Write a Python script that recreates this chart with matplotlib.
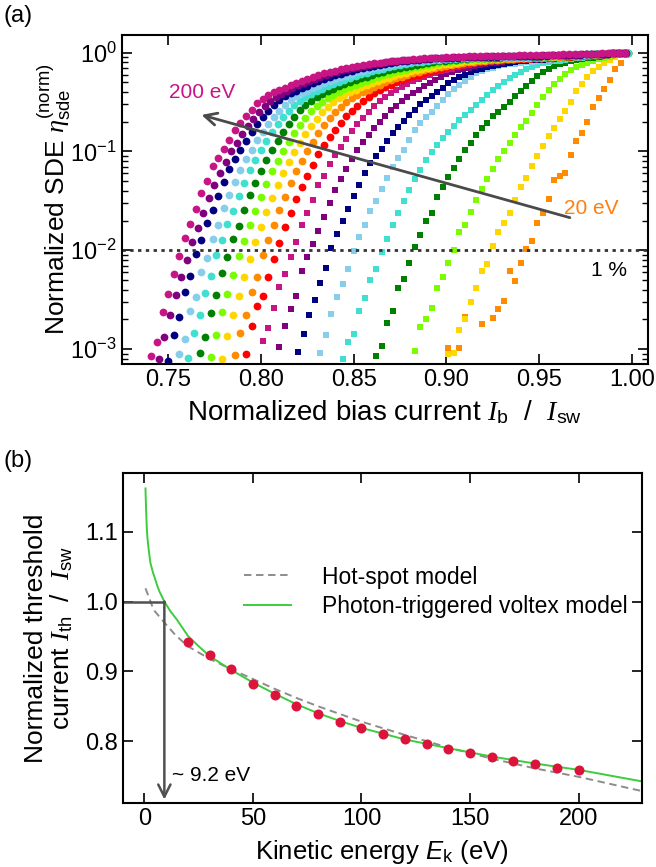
import numpy as np
import matplotlib
matplotlib.use('Agg')
import matplotlib.pyplot as plt
from matplotlib.ticker import FormatStrFormatter, LogLocator, NullFormatter, MultipleLocator

plt.rcParams['font.family'] = ['Liberation Sans', 'DejaVu Sans']
plt.rcParams['mathtext.fontset'] = 'custom'
plt.rcParams['mathtext.rm'] = 'Liberation Sans'
plt.rcParams['mathtext.it'] = 'Liberation Serif:italic'
plt.rcParams['mathtext.sf'] = 'Liberation Sans:italic'

NA = np.nan

# ---- panel (a): normalized SDE, log10 values ----
# each curve starts at bias_start[i] and goes up in steps of bias_step
energies = [20, 30, 40, 50, 60, 70, 80, 90, 100, 110, 120, 130, 140, 150, 160, 170, 180, 190, 200]
bias_start = [0.901, 0.901, 0.883, 0.862, 0.844, 0.832, 0.820, 0.810, 0.801, 0.792,
              0.786, 0.779, 0.773, 0.767, 0.761, 0.756, 0.750, 0.745, 0.741]
bias_step = 0.003

sde_20 = [-2.99, NA, -2.99, -2.68, NA, NA, -2.75, NA, -2.69, -2.59, -2.51, -2.21, -2.31, -2.13, -1.99,
          -1.91, -1.72, -1.62, -1.48, -1.29, -1.245, -1.22, -1.04, -0.89, -0.81, -0.70, -0.55, -0.46,
          -0.37, -0.28, -0.17, -0.10, 0.0]
sde_30 = [-3.05, -3.04, -2.81, -2.70, -2.52, -2.38, -2.21, -2.14, -1.96, -1.82, -1.72, -1.62, -1.49,
          -1.36, -1.27, -1.145, -1.05, -0.94, -0.84, -0.76, -0.675, -0.59, -0.50, -0.39, -0.32, -0.25,
          -0.19, -0.14, -0.10, -0.07, -0.045, -0.022, 0.0]
sde_40 = [-3.02, -2.78, -2.70, -2.58, -2.38, -2.27, -2.13, -2.00, -1.82, -1.74, -1.61, -1.49, -1.38,
          -1.28, -1.18, -1.08, -1.00, -0.915, -0.83, -0.755, -0.69, -0.61, -0.53, -0.45, -0.38, -0.32,
          -0.27, -0.22, -0.18, -0.145, -0.12, -0.10, -0.083, -0.068, -0.054, -0.04, -0.027, -0.014, 0.0]
sde_50 = [-3.07, -2.97, -2.74, -2.62, -2.38, -2.29, -2.13, -1.97, -1.85, -1.70, -1.62, -1.46, -1.36,
          -1.26, -1.17, -1.08, -0.99, -0.91, -0.83, -0.76, -0.71, -0.64, -0.596, -0.55, -0.50, -0.44,
          -0.39, -0.34, -0.29, -0.24, -0.20, -0.168, -0.135, -0.115, -0.10, -0.088, -0.077, -0.067,
          -0.058, -0.05, -0.042, -0.034, -0.026, -0.018, -0.009, 0.0]
sde_60 = [-3.10, -2.93, -2.85, -2.62, -2.48, -2.30, -2.19, -2.02, -1.89, -1.74, -1.62, -1.50, -1.39,
          -1.28, -1.19, -1.09, -1.01, -0.93, -0.86, -0.80, -0.74, -0.68, -0.63, -0.58, -0.53, -0.48,
          -0.43, -0.38, -0.34, -0.30, -0.26, -0.23, -0.20, -0.17, -0.145, -0.125, -0.108, -0.097,
          -0.088, -0.08, -0.072, -0.064, -0.057, -0.05, -0.043, -0.037, -0.03, -0.024, -0.018, -0.012,
          -0.006, 0.0]
sde_70 = [-3.04, -2.86, -2.65, -2.47, -2.34, -2.19, -2.01, -1.87, -1.74, -1.60, -1.50, -1.38, -1.27,
          -1.16, -1.07, -0.98, -0.88, -0.78, -0.71, -0.655, -0.60, -0.54, -0.48, -0.42, -0.37, -0.33,
          -0.285, -0.245, -0.21, -0.185, -0.163, -0.15, -0.138, -0.128, -0.119, -0.111, -0.103, -0.096,
          -0.09, -0.084, -0.078, -0.073, -0.068, -0.063, -0.058, -0.053, -0.048, -0.043, -0.038, -0.032,
          -0.026, -0.02, -0.015, -0.01, -0.005, 0.0]
sde_80 = [-3.03, -2.85, -2.66, -2.50, -2.33, -2.18, -1.98, -1.84, -1.70, -1.58, -1.45, -1.34, -1.22,
          -1.12, -1.05, -0.97, -0.89, -0.81, -0.75, -0.69, -0.63, -0.575, -0.52, -0.48, -0.44, -0.40,
          -0.355, -0.31, -0.28, -0.25, -0.225, -0.20, -0.18, -0.162, -0.146, -0.132, -0.12, -0.11,
          -0.102, -0.095, -0.088, -0.083, -0.078, -0.074, -0.07, -0.066, -0.062, -0.058, -0.054, -0.05,
          -0.045, -0.04, -0.035, -0.03, -0.025, -0.019, -0.014, -0.009, -0.004, 0.0]
sde_90 = [-2.98, -2.77, -2.59, -2.46, -2.21, -2.07, -1.94, -1.80, -1.66, -1.52, -1.39, -1.28, -1.18,
          -1.08, -0.98, -0.90, -0.83, -0.76, -0.70, -0.64, -0.585, -0.535, -0.49, -0.45, -0.41, -0.375,
          -0.34, -0.31, -0.28, -0.245, -0.215, -0.197, -0.18, -0.165, -0.151, -0.139, -0.128, -0.118,
          -0.109, -0.101, -0.094, -0.087, -0.081, -0.077, -0.073, -0.07, -0.066, -0.063, -0.06, -0.057,
          -0.054, -0.05, -0.046, -0.042, -0.038, -0.034, -0.03, -0.025, -0.02, -0.015, -0.01, -0.005, 0.0]
sde_100 = [-2.92, -2.79, -2.58, -2.37, -2.24, -2.07, -1.92, -1.74, -1.62, -1.49, -1.34, -1.25, -1.13,
           -1.04, -0.955, -0.87, -0.79, -0.72, -0.66, -0.60, -0.54, -0.49, -0.45, -0.41, -0.375, -0.345,
           -0.315, -0.29, -0.265, -0.245, -0.225, -0.207, -0.19, -0.175, -0.161, -0.148, -0.136, -0.125,
           -0.115, -0.106, -0.098, -0.09, -0.085, -0.08, -0.076, -0.072, -0.069, -0.066, -0.063, -0.06,
           -0.058, -0.056, -0.053, -0.05, -0.047, -0.044, -0.04, -0.036, -0.032, -0.028, -0.024, -0.02,
           -0.015, -0.01, -0.005, 0.0]
sde_110 = [-3.05, -2.77, -2.56, -2.46, -2.27, -2.09, -1.93, -1.76, -1.62, -1.48, -1.36, -1.25, -1.14,
           -1.03, -0.93, -0.85, -0.78, -0.71, -0.645, -0.59, -0.535, -0.49, -0.445, -0.405, -0.375, -0.35,
           -0.325, -0.30, -0.28, -0.26, -0.24, -0.222, -0.205, -0.19, -0.175, -0.16, -0.148, -0.136,
           -0.125, -0.115, -0.106, -0.098, -0.09, -0.083, -0.077, -0.073, -0.07, -0.067, -0.064, -0.061,
           -0.059, -0.057, -0.055, -0.053, -0.051, -0.049, -0.047, -0.044, -0.041, -0.038, -0.034, -0.031,
           -0.027, -0.023, -0.019, -0.014, -0.009, -0.005, 0.0]
sde_120 = [-3.06, -2.84, -2.66, -2.42, -2.27, -2.05, -1.90, -1.74, -1.59, -1.46, -1.32, -1.20, -1.10,
           -1.00, -0.90, -0.81, -0.73, -0.66, -0.60, -0.545, -0.50, -0.46, -0.43, -0.40, -0.375, -0.35,
           -0.325, -0.30, -0.28, -0.26, -0.242, -0.225, -0.208, -0.193, -0.179, -0.166, -0.154, -0.143,
           -0.133, -0.123, -0.114, -0.106, -0.098, -0.091, -0.085, -0.079, -0.074, -0.07, -0.066, -0.063,
           -0.06, -0.058, -0.055, -0.053, -0.051, -0.049, -0.047, -0.045, -0.043, -0.04, -0.038, -0.035,
           -0.032, -0.028, -0.025, -0.021, -0.017, -0.013, -0.008, -0.004, 0.0]
sde_130 = [-3.10, -2.87, -2.66, -2.46, -2.27, -2.09, -1.92, -1.76, -1.61, -1.47, -1.34, -1.22, -1.11,
           -1.01, -0.91, -0.82, -0.74, -0.67, -0.60, -0.545, -0.50, -0.46, -0.43, -0.40, -0.375, -0.35,
           -0.33, -0.31, -0.29, -0.27, -0.252, -0.235, -0.219, -0.204, -0.19, -0.176, -0.163, -0.151,
           -0.14, -0.129, -0.119, -0.11, -0.101, -0.094, -0.087, -0.081, -0.076, -0.071, -0.067, -0.063,
           -0.06, -0.057, -0.055, -0.053, -0.051, -0.049, -0.047, -0.045, -0.043, -0.041, -0.039, -0.036,
           -0.034, -0.031, -0.028, -0.025, -0.022, -0.019, -0.016, -0.012, -0.009, -0.005, -0.002, 0.0]
sde_140 = [-3.08, -2.86, -2.63, -2.44, -2.25, -2.06, -1.91, -1.74, -1.60, -1.46, -1.33, -1.20, -1.10,
           -1.00, -0.90, -0.81, -0.73, -0.66, -0.595, -0.54, -0.495, -0.455, -0.425, -0.395, -0.37, -0.345,
           -0.325, -0.305, -0.285, -0.265, -0.247, -0.23, -0.214, -0.199, -0.185, -0.171, -0.158, -0.146,
           -0.135, -0.124, -0.114, -0.105, -0.097, -0.09, -0.083, -0.077, -0.072, -0.068, -0.064, -0.061,
           -0.058, -0.056, -0.054, -0.052, -0.05, -0.048, -0.047, -0.045, -0.043, -0.042, -0.04, -0.038,
           -0.036, -0.034, -0.031, -0.029, -0.027, -0.024, -0.021, -0.018, -0.015, -0.012, -0.009, -0.005,
           -0.002, 0.0]
sde_150 = [-3.04, -2.88, -2.64, -2.45, -2.23, -2.07, -1.89, -1.75, -1.59, -1.44, -1.32, -1.20, -1.09,
           -0.99, -0.89, -0.80, -0.72, -0.65, -0.585, -0.53, -0.485, -0.45, -0.42, -0.39, -0.365, -0.34,
           -0.32, -0.30, -0.28, -0.26, -0.242, -0.225, -0.21, -0.195, -0.18, -0.166, -0.153, -0.141,
           -0.13, -0.12, -0.11, -0.101, -0.093, -0.086, -0.08, -0.074, -0.069, -0.065, -0.061, -0.058,
           -0.056, -0.054, -0.052, -0.05, -0.049, -0.047, -0.046, -0.045, -0.043, -0.042, -0.04, -0.039,
           -0.037, -0.035, -0.033, -0.031, -0.029, -0.027, -0.025, -0.022, -0.02, -0.017, -0.014, -0.011,
           -0.008, -0.005, -0.002, 0.0]
sde_160 = [-3.09, -2.84, -2.66, -2.43, -2.26, -2.05, -1.90, -1.73, -1.60, -1.45, -1.32, -1.19, -1.09,
           -0.98, -0.89, -0.80, -0.72, -0.65, -0.59, -0.53, -0.485, -0.445, -0.415, -0.39, -0.365, -0.34,
           -0.315, -0.295, -0.275, -0.255, -0.237, -0.22, -0.205, -0.19, -0.175, -0.162, -0.149, -0.137,
           -0.126, -0.116, -0.107, -0.099, -0.091, -0.084, -0.078, -0.072, -0.067, -0.063, -0.06, -0.057,
           -0.055, -0.053, -0.051, -0.049, -0.048, -0.046, -0.045, -0.044, -0.042, -0.041, -0.04, -0.039,
           -0.037, -0.036, -0.034, -0.033, -0.031, -0.029, -0.027, -0.025, -0.023, -0.021, -0.018, -0.016,
           -0.013, -0.01, -0.007, -0.004, -0.002, 0.0]
sde_170 = [-3.05, -2.90, -2.62, -2.47, -2.22, -2.08, -1.89, -1.74, -1.57, -1.44, -1.31, -1.19, -1.08,
           -0.98, -0.88, -0.80, -0.72, -0.65, -0.59, -0.53, -0.48, -0.44, -0.41, -0.385, -0.36, -0.335,
           -0.31, -0.29, -0.27, -0.25, -0.232, -0.215, -0.20, -0.185, -0.17, -0.157, -0.145, -0.133,
           -0.122, -0.112, -0.103, -0.095, -0.088, -0.081, -0.075, -0.07, -0.065, -0.062, -0.059, -0.056,
           -0.054, -0.052, -0.05, -0.048, -0.046, -0.045, -0.043, -0.042, -0.041, -0.04, -0.039, -0.038,
           -0.037, -0.035, -0.034, -0.033, -0.031, -0.03, -0.028, -0.027, -0.025, -0.023, -0.021, -0.019,
           -0.017, -0.014, -0.012, -0.009, -0.006, -0.003, 0.0]
sde_180 = [-3.12, -2.86, -2.68, -2.42, -2.26, -2.04, -1.90, -1.72, -1.59, -1.45, -1.31, -1.18, -1.08,
           -0.98, -0.89, -0.80, -0.72, -0.65, -0.59, -0.53, -0.48, -0.44, -0.41, -0.385, -0.36, -0.335,
           -0.31, -0.29, -0.27, -0.25, -0.23, -0.215, -0.20, -0.185, -0.17, -0.157, -0.145, -0.133,
           -0.122, -0.112, -0.103, -0.095, -0.088, -0.082, -0.076, -0.071, -0.066, -0.062, -0.058, -0.055,
           -0.053, -0.051, -0.049, -0.047, -0.045, -0.044, -0.042, -0.041, -0.04, -0.039, -0.038, -0.037,
           -0.036, -0.035, -0.034, -0.033, -0.031, -0.03, -0.029, -0.028, -0.026, -0.025, -0.023, -0.021,
           -0.02, -0.018, -0.016, -0.013, -0.011, -0.009, -0.006, -0.003, 0.0]
sde_190 = [-3.10, -2.88, -2.66, -2.45, -2.27, -2.10, -1.92, -1.77, -1.62, -1.47, -1.34, -1.22, -1.11,
           -1.00, -0.91, -0.82, -0.74, -0.67, -0.60, -0.54, -0.49, -0.45, -0.415, -0.385, -0.355, -0.33,
           -0.305, -0.285, -0.265, -0.245, -0.225, -0.21, -0.195, -0.18, -0.165, -0.152, -0.142, -0.132,
           -0.122, -0.112, -0.104, -0.096, -0.089, -0.083, -0.078, -0.073, -0.069, -0.065, -0.061, -0.058,
           -0.055, -0.052, -0.05, -0.048, -0.046, -0.044, -0.042, -0.041, -0.039, -0.038, -0.037, -0.036,
           -0.035, -0.034, -0.033, -0.032, -0.031, -0.03, -0.029, -0.028, -0.027, -0.025, -0.024, -0.023,
           -0.021, -0.02, -0.018, -0.016, -0.014, -0.012, -0.01, -0.008, -0.005, -0.003, 0.0]
sde_200 = [-3.07, -2.93, -2.63, -2.44, -2.24, -2.06, -1.88, -1.73, -1.58, -1.42, -1.30, -1.15, -1.07,
           -0.97, -0.88, -0.78, -0.71, -0.64, -0.58, -0.51, -0.47, -0.43, -0.40, -0.38, -0.36, -0.33,
           -0.31, -0.29, -0.27, -0.25, -0.23, -0.21, -0.20, -0.185, -0.17, -0.155, -0.145, -0.135,
           -0.125, -0.115, -0.105, -0.10, -0.09, -0.085, -0.08, -0.075, -0.07, -0.066, -0.062, -0.058,
           -0.055, -0.052, -0.049, -0.046, -0.044, -0.042, -0.04, -0.038, -0.036, -0.035, -0.034, -0.033,
           -0.032, -0.031, -0.03, -0.029, -0.028, -0.027, -0.026, -0.025, -0.024, -0.022, -0.021, -0.02,
           -0.018, -0.017, -0.015, -0.014, -0.012, -0.01, -0.009, -0.007, -0.005, -0.004, -0.002, 0.0]

sde_curves = [sde_20, sde_30, sde_40, sde_50, sde_60, sde_70, sde_80, sde_90, sde_100, sde_110,
              sde_120, sde_130, sde_140, sde_150, sde_160, sde_170, sde_180, sde_190, sde_200]
curve_colors = ['darkorange', 'gold', 'lawngreen', 'green', 'turquoise', 'skyblue', 'navy', 'purple',
                'mediumvioletred', 'red', 'darkorange', 'gold', 'lawngreen', 'green', 'turquoise',
                'skyblue', 'navy', 'purple', 'mediumvioletred']

# ---- panel (b): threshold current vs kinetic energy ----
kinetic_energy = [20, 30, 40, 50, 60, 70, 80, 90, 100, 110, 120, 130, 140, 150, 160, 170, 180, 190, 200]
threshold = [0.942, 0.924, 0.904, 0.882, 0.866, 0.850, 0.839, 0.828, 0.819, 0.810, 0.803, 0.796,
             0.789, 0.783, 0.777, 0.772, 0.767, 0.762, 0.759]

hotspot_e = [0.5, 4.3, 8.9, 14.3, 20, 30, 40, 50, 60, 70, 80, 90, 100, 120, 140, 160, 180, 200, 230]
hotspot_i = [1.019, 0.988, 0.971, 0.952, 0.936, 0.918, 0.903, 0.889, 0.875, 0.862, 0.850, 0.839,
             0.828, 0.809, 0.791, 0.775, 0.761, 0.749, 0.728]

vortex_e = [0.5, 0.6, 0.8, 1.0, 1.2, 1.5, 2.0, 2.4, 2.8, 3.4, 4.0, 5.1, 6.0, 7.0, 9.2, 12, 15, 20,
            25, 30, 40, 50, 60, 70, 80, 90, 100, 120, 140, 160, 180, 200, 230]
vortex_i = [1.162, 1.150, 1.131, 1.114, 1.100, 1.088, 1.074, 1.064, 1.055, 1.048, 1.041, 1.031,
            1.022, 1.014, 1.000, 0.986, 0.974, 0.951, 0.936, 0.922, 0.902, 0.884, 0.868, 0.853,
            0.840, 0.829, 0.819, 0.8025, 0.790, 0.778, 0.768, 0.759, 0.742]

threshold_energy = 9.2

fig = plt.figure(figsize=(6.56, 8.67), dpi=100)
ax1 = fig.add_axes([0.1855, 0.5802, 0.8023, 0.3794])
ax2 = fig.add_axes([0.187, 0.0742, 0.791, 0.3802])

for i, vals in enumerate(sde_curves):
    x = bias_start[i] + bias_step * np.arange(len(vals))
    y = 10 ** np.array(vals, dtype=float)
    marker = 's' if energies[i] <= 100 else 'o'
    ms = 5.0 if marker == 's' else 5.6
    ax1.plot(x, y, ls='none', marker=marker, ms=ms, mew=0, color=curve_colors[i], clip_on=True)

ax1.axhline(0.01, color='#333333', ls=(0, (1.2, 1.6)), lw=2.0)
ax1.annotate('', xy=(0.768, 10 ** -0.63), xytext=(0.9665, 10 ** -1.67),
             arrowprops=dict(arrowstyle='->', color='#4a4a4a', lw=2.0, mutation_scale=22,
                             shrinkA=0, shrinkB=0))
ax1.text(0.7505, 10 ** -0.40, '200 eV', color='mediumvioletred', fontsize=15, va='center', ha='left')
ax1.text(0.9635, 10 ** -1.58, '20 eV', color='#ff7f0e', fontsize=15, va='center', ha='left')
ax1.text(0.978, 10 ** -2.2, '1 %', color='black', fontsize=15, va='center', ha='left')

ax1.set_yscale('log')
ax1.set_xlim(0.725, 1.0086)
ax1.set_ylim(7.06e-4, 1.51)
ax1.set_xticks([0.75, 0.80, 0.85, 0.90, 0.95, 1.00])
ax1.xaxis.set_major_formatter(FormatStrFormatter('%.2f'))
ax1.yaxis.set_major_locator(LogLocator(base=10, numticks=10))
ax1.yaxis.set_minor_locator(LogLocator(base=10, subs=np.arange(2, 10), numticks=20))
ax1.yaxis.set_minor_formatter(NullFormatter())
ax1.set_xlabel(r'Normalized bias current $I_\mathrm{b}$  /  $I_\mathrm{sw}$', fontsize=20, labelpad=5)
ax1.set_ylabel(r'Normalized SDE $\eta_\mathrm{sde}^\mathrm{(norm)}$', fontsize=19)
ax1.yaxis.set_label_coords(-0.093, 0.5)

# panel (b)
ax2.plot(hotspot_e, hotspot_i, color='#8c8c8c', ls=(0, (3.8, 2.4)), lw=1.4, label='Hot-spot model')
ax2.plot(vortex_e, vortex_i, color='#3dcc3d', lw=1.4, label='Photon-triggered voltex model')
ax2.plot(kinetic_energy, threshold, ls='none', marker='o', ms=7.2, mew=0, color='crimson')
ax2.plot([-10, threshold_energy], [1.0, 1.0], color='#505050', lw=1.8)
ax2.annotate('', xy=(threshold_energy, 0.7165), xytext=(threshold_energy, 1.0),
             arrowprops=dict(arrowstyle='->', color='#505050', lw=1.8, mutation_scale=22,
                             shrinkA=0, shrinkB=0))
ax2.text(12.5, 0.751, '~ 9.2 eV', fontsize=15, va='center', ha='left')

ax2.set_xlim(-10, 229)
ax2.set_ylim(0.712, 1.184)
ax2.xaxis.set_major_locator(MultipleLocator(50))
ax2.set_yticks([0.8, 0.9, 1.0, 1.1])
ax2.yaxis.set_major_formatter(FormatStrFormatter('%.1f'))
ax2.set_xlabel(r'Kinetic energy $\mathsf{E}_\mathrm{k}$ (eV)', fontsize=18.5, labelpad=6)
ax2.set_ylabel('Normalized threshold\n' + r'current $I_\mathrm{th}$  /  $I_\mathrm{sw}$', fontsize=19,
               linespacing=1.0)
ax2.yaxis.set_label_coords(-0.092, 0.5)
ax2.legend(frameon=False, loc='upper left', bbox_to_anchor=(0.194, 0.782), fontsize=16.5,
           handlelength=2.05, handletextpad=1.35, labelspacing=0.3)

for ax in (ax1, ax2):
    for sp in ax.spines.values():
        sp.set_linewidth(1.5)
    ax.tick_params(which='both', direction='in', top=True, right=True, labelsize=17)
    ax.tick_params(which='major', length=7, width=1.2)
    ax.tick_params(which='minor', length=4, width=1.0)

fig.text(0.006, 0.994, '(a)', fontsize=17, va='top', ha='left')
fig.text(0.006, 0.481, '(b)', fontsize=17, va='top', ha='left')

fig.savefig('out.png', dpi=100)
